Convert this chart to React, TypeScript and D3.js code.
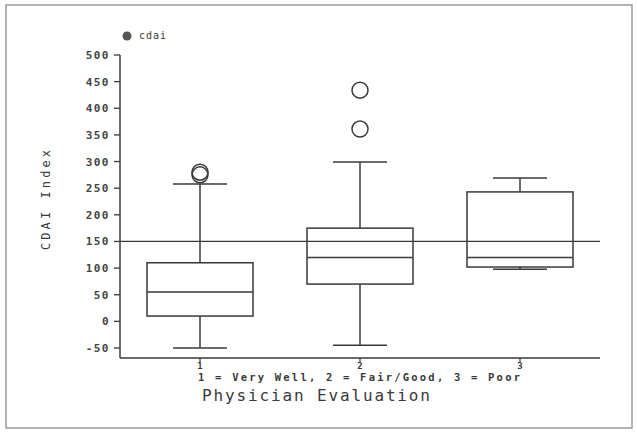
import * as d3 from "d3";

// CDAI index by physician evaluation
const categories = ["1", "2", "3"];
const lowWhisker = [-50, -45, 98];
const q1 = [10, 70, 102];
const median = [55, 120, 120];
const q3 = [110, 175, 243];
const highWhisker = [258, 299, 269];
const outliers = [[275, 280], [361, 434], []];
const yTicks = [-50, 0, 50, 100, 150, 200, 250, 300, 350, 400, 450, 500];
const referenceValue = 150;

const W = 637;
const H = 436;
const ink = "#3a3a3a";
const mono = "'DejaVu Sans Mono', monospace";

export default function App() {
  const y = d3.scaleLinear().domain([-50, 500]).range([348, 55]);
  const x = d3.scalePoint().domain(categories).range([200, 520]);
  const boxW = 106;
  const capW = 54;

  return (
    <svg width={W} height={H} style={{ position: "absolute", left: 0, top: 0 }}>
      <rect x={0} y={0} width={W} height={H} fill="#fff" />
      <rect x={6} y={5} width={626} height={423} fill="none" stroke="#9a9a9a" strokeWidth={1.5} />

      {/* legend */}
      <circle cx={127} cy={36} r={4.5} fill="#555" />
      <text x={139} y={39} fontFamily={mono} fontSize={10} fill={ink} letterSpacing={1}>cdai</text>

      {/* y axis */}
      <line x1={120} x2={120} y1={y(500)} y2={358} stroke={ink} strokeWidth={1.5} />
      {yTicks.map((t) => (
        <g key={t}>
          <line x1={114} x2={120} y1={y(t)} y2={y(t)} stroke={ink} strokeWidth={1.3} />
          <text x={110} y={y(t) + 4} textAnchor="end" fontFamily={mono} fontSize={11}
            fontWeight="bold" fill="#444" letterSpacing={1.5}>{t}</text>
        </g>
      ))}
      <text transform="translate(50,200) rotate(-90)" textAnchor="middle" fontFamily={mono}
        fontSize={12} fill={ink} textLength={100} lengthAdjust="spacing">CDAI Index</text>

      {/* x axis */}
      <line x1={120} x2={600} y1={358} y2={358} stroke={ink} strokeWidth={1.5} />
      {categories.map((c) => (
        <g key={c}>
          <line x1={x(c)!} x2={x(c)!} y1={358} y2={362} stroke={ink} strokeWidth={1.2} />
          <text x={x(c)!} y={369} textAnchor="middle" fontFamily={mono} fontSize={9}
            fontWeight="bold" fill={ink}>{c}</text>
        </g>
      ))}
      <text x={359} y={381} textAnchor="middle" fontFamily={mono} fontSize={10.5} fontWeight="bold"
        fill={ink} textLength={322} lengthAdjust="spacing">1 = Very Well, 2 = Fair/Good, 3 = Poor</text>
      <text x={316} y={401} textAnchor="middle" fontFamily={mono} fontSize={16}
        fill={ink} textLength={228} lengthAdjust="spacing">Physician Evaluation</text>

      {/* reference line */}
      <line x1={120} x2={600} y1={y(referenceValue)} y2={y(referenceValue)} stroke={ink} strokeWidth={1.3} />

      {/* boxes */}
      {categories.map((c, i) => {
        const cx = x(c)!;
        return (
          <g key={c} stroke={ink} strokeWidth={1.5} fill="none">
            <line x1={cx} x2={cx} y1={y(highWhisker[i])} y2={y(q3[i])} />
            <line x1={cx} x2={cx} y1={y(q1[i])} y2={y(lowWhisker[i])} />
            <line x1={cx - capW / 2} x2={cx + capW / 2} y1={y(highWhisker[i])} y2={y(highWhisker[i])} />
            <line x1={cx - capW / 2} x2={cx + capW / 2} y1={y(lowWhisker[i])} y2={y(lowWhisker[i])} />
            <rect x={cx - boxW / 2} y={y(q3[i])} width={boxW} height={y(q1[i]) - y(q3[i])} />
            <line x1={cx - boxW / 2} x2={cx + boxW / 2} y1={y(median[i])} y2={y(median[i])} />
            {outliers[i].map((o, k) => (
              <circle key={k} cx={cx} cy={y(o)} r={8} />
            ))}
          </g>
        );
      })}
    </svg>
  );
}
